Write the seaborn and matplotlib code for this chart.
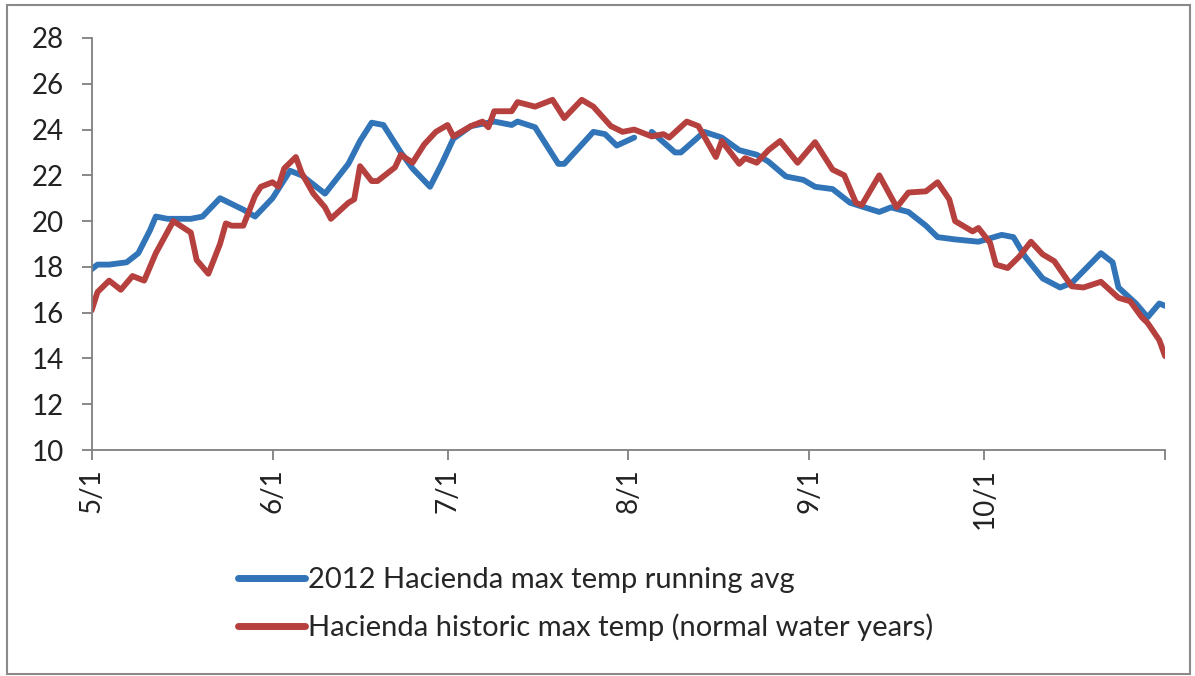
import matplotlib
matplotlib.use("Agg")
import numpy as np
import pandas as pd
import matplotlib.pyplot as plt
from matplotlib.patches import Rectangle
import seaborn as sns

# days after 5/1 and values
blue_days = [0, 1, 3, 6, 7, 8, 10, 11, 13, 17, 19, 22, 26, 28, 31, 34, 36, 40, 44, 46, 48, 50,
             53, 55, 58, 60, 62, 65, 69, 72, 73, 76, 80, 81, 86, 88, 90, 93,
             96, 100, 101, 105, 108, 111, 114, 116, 119, 122, 124, 127, 130, 135, 137, 140,
             143, 145, 148, 152, 156, 158, 160, 163, 166, 168, 173, 175, 176, 179, 181, 183, 184]
blue_vals = [17.9, 18.1, 18.1, 18.2, 18.4, 18.6, 19.6, 20.2, 20.1, 20.1, 20.2, 21.0, 20.5, 20.2,
             21.0, 22.2, 22.0, 21.2, 22.5, 23.5, 24.3, 24.2, 23.0, 22.3, 21.5, 22.5, 23.6, 24.15,
             24.35, 24.2, 24.35, 24.1, 22.5, 22.5, 23.9, 23.8, 23.3, 23.65,
             23.9, 23.0, 23.0, 23.9, 23.65, 23.1, 22.9, 22.6, 21.95, 21.8, 21.5, 21.4, 20.8,
             20.4, 20.6, 20.4, 19.8, 19.3, 19.2, 19.1, 19.4, 19.3, 18.45, 17.5, 17.1, 17.3,
             18.6, 18.2, 17.1, 16.4, 15.8, 16.4, 16.3]
blue_gap_after = 93   # the 2012 line breaks just after 8/1

red_days = [0, 1, 3, 5, 7, 9, 11, 14, 17, 18, 20, 22, 23, 24, 26, 28, 29, 31, 32, 33, 35, 36,
            38, 40, 41, 44, 45, 46, 48, 49, 52, 53, 55, 57, 59, 61, 62, 65, 67, 68, 69, 72,
            73, 76, 79, 81, 84, 86, 89, 91, 93, 96, 98, 99, 102, 104, 107, 108, 111, 112,
            114, 116, 118, 121, 124, 127, 129, 131, 132, 135, 138, 140, 143, 145, 147, 148,
            151, 152, 154, 155, 157, 159, 161, 163, 165, 168, 170, 173, 176, 178, 180, 181,
            183, 184]
red_vals = [16.1, 16.9, 17.4, 17.0, 17.6, 17.4, 18.6, 20.0, 19.5, 18.3, 17.7, 19.0, 19.9, 19.8,
            19.8, 21.1, 21.5, 21.7, 21.5, 22.3, 22.8, 22.1, 21.2, 20.6, 20.1, 20.8, 20.95,
            22.4, 21.75, 21.75, 22.35, 22.9, 22.55, 23.35, 23.9, 24.2, 23.7, 24.15, 24.35,
            24.1, 24.8, 24.8, 25.2, 25.0, 25.3, 24.5, 25.3, 25.0, 24.15, 23.9, 24.0, 23.7,
            23.8, 23.65, 24.35, 24.15, 22.8, 23.5, 22.5, 22.75, 22.55, 23.1, 23.5, 22.55,
            23.45, 22.25, 22.0, 20.8, 20.7, 22.0, 20.6, 21.25, 21.3, 21.7, 20.95, 20.0,
            19.55, 19.7, 19.05, 18.1, 17.95, 18.45, 19.1, 18.55, 18.25, 17.15, 17.1, 17.35,
            16.65, 16.5, 15.8, 15.55, 14.8, 14.1]

blue_name = "2012 Hacienda max temp running avg"
red_name = "Hacienda historic max temp (normal water years)"
tick_dates = ["2012-05-01", "2012-06-01", "2012-07-01", "2012-08-01",
              "2012-09-01", "2012-10-01", "2012-11-01"]
tick_labels = ["5/1", "6/1", "7/1", "8/1", "9/1", "10/1", ""]
y_ticks = [10, 12, 14, 16, 18, 20, 22, 24, 26, 28]

start = pd.Timestamp("2012-05-01")
blue = pd.DataFrame({"day": blue_days, "temp": blue_vals})
blue["series"] = blue_name
blue["seg"] = np.where(blue["day"] > blue_gap_after, 1, 0)
red = pd.DataFrame({"day": red_days, "temp": red_vals})
red["series"] = red_name
red["seg"] = 2
df = pd.concat([blue, red], ignore_index=True)
df["date"] = start + pd.to_timedelta(df["day"], unit="D")

sns.set_style("white")
plt.rcParams['font.family'] = ['Lato', 'DejaVu Sans']

fig = plt.figure(figsize=(11.95, 6.76), dpi=100)
ax = fig.add_axes([0.0767, 0.3343, 0.8983, 0.6095])

sns.lineplot(data=df, x="date", y="temp", hue="series", units="seg", estimator=None,
             palette={blue_name: "#3274B8", red_name: "#B5403E"},
             linewidth=4.2, ax=ax, legend=True)

ax.set_xlim(start, pd.Timestamp("2012-11-01"))
ax.set_ylim(10, 28)
ax.set_yticks(y_ticks)
ax.set_xticks(pd.to_datetime(tick_dates))
ax.set_xticklabels(tick_labels, rotation=90)
ax.set_xlabel("")
ax.set_ylabel("")
ax.tick_params(axis="both", direction="out", length=7, width=1.3, color="#7f7f7f",
               labelsize=20, labelcolor="#222222", left=True, bottom=True)
ax.tick_params(axis="y", pad=13)
ax.tick_params(axis="x", pad=6)
for side in ["top", "right"]:
    ax.spines[side].set_visible(False)
for side in ["left", "bottom"]:
    ax.spines[side].set_color("#7f7f7f")
    ax.spines[side].set_linewidth(1.3)

handles, labels = ax.get_legend_handles_labels()
ax.get_legend().remove()
leg = fig.legend(handles, labels, loc="center left", bbox_to_anchor=(0.177, 1 - 604 / 676),
                 frameon=False, fontsize=21, handlelength=2.3, handletextpad=0.12,
                 labelspacing=0.7)
for line in leg.get_lines():
    line.set_linewidth(5)

fig.patches.append(Rectangle((0.006, 0.003), 0.99, 0.99, transform=fig.transFigure,
                             fill=False, edgecolor="#8a8a8a", linewidth=1.5))

fig.savefig("out.png", dpi=100, facecolor="white")
